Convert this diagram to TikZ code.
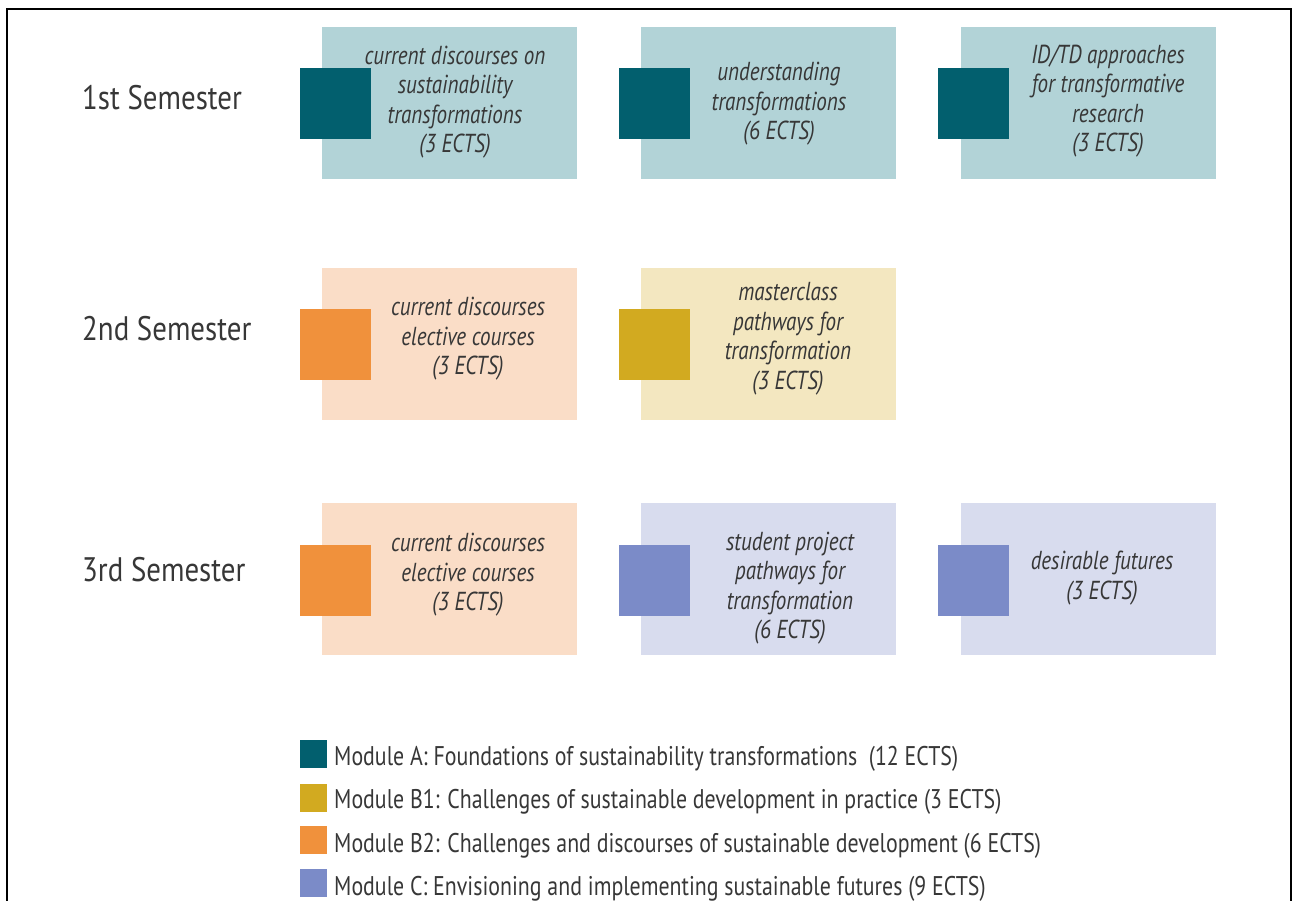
\documentclass[tikz,border=0pt]{standalone}
\usepackage{fontspec}
\setmainfont{PT Sans}
\newfontfamily\semfont{PT Sans}[FakeStretch=0.85]
\newfontfamily\modfont{PT Sans}[FakeStretch=0.81]
\usepackage{tikz}
\usetikzlibrary{positioning}

\definecolor{textgray}{RGB}{55,55,55}
\definecolor{darkA}{RGB}{2,95,110}
\definecolor{lightA}{RGB}{178,211,215}
\definecolor{darkBone}{RGB}{210,170,32}
\definecolor{lightBone}{RGB}{243,231,192}
\definecolor{darkBtwo}{RGB}{240,145,60}
\definecolor{lightBtwo}{RGB}{250,221,199}
\definecolor{darkC}{RGB}{123,139,200}
\definecolor{lightC}{RGB}{216,220,238}

\tikzset{
  semester/.style={font=\semfont\fontsize{34}{40}\selectfont, text=textgray, anchor=base west, inner sep=0pt},
  course/.style={font=\modfont\itshape\fontsize{26}{29.5}\selectfont, text=textgray, align=center, inner sep=0pt},
  legende/.style={font=\modfont\fontsize{27}{30}\selectfont, text=textgray, anchor=base west, inner sep=0pt}
}

\begin{document}
\begin{tikzpicture}[x=1pt,y=-1pt]

%Dimensions des modules
\def \boxw{255}
\def \boxh{152}
\def \sqw{71}
\def \colun{322}
\def \coldeux{641}
\def \coltrois{961}
\def \rowun{27}
\def \rowdeux{268}
\def \rowtrois{503}

\useasboundingbox (0,0) rectangle (1295,901);

%Cadre
\draw[line width=2.5pt] (7,910) -- (7,9) -- (1291,9) -- (1291,910);

%%% 1st Semester %%%
\node[semester] (sem1) at (82,110) {1st Semester};

\fill[lightA] (\colun,\rowun) rectangle ++(\boxw,\boxh);
\fill[darkA] (\colun-22,\rowun+41) rectangle ++(\sqw,\sqw);
\node[course] (a1) at (455,102) {current discourses on\\sustainability\\transformations\\(3 ECTS)};

\fill[lightA] (\coldeux,\rowun) rectangle ++(\boxw,\boxh);
\fill[darkA] (\coldeux-22,\rowun+41) rectangle ++(\sqw,\sqw);
\node[course] (a2) at (779,104) {understanding\\transformations\\(6 ECTS)};

\fill[lightA] (\coltrois,\rowun) rectangle ++(\boxw,\boxh);
\fill[darkA] (\coltrois-23,\rowun+41) rectangle ++(\sqw,\sqw);
\node[course] (a3) at (1108,101) {ID/TD approaches\\for transformative\\research\\(3 ECTS)};

%%% 2nd Semester %%%
\node[semester] (sem2) at (82,340) {2nd Semester};

\fill[lightBtwo] (\colun,\rowdeux) rectangle ++(\boxw,\boxh);
\fill[darkBtwo] (\colun-22,\rowdeux+41) rectangle ++(\sqw,\sqw);
\node[course] (b2) at (468,339) {current discourses\\elective courses\\(3 ECTS)};

\fill[lightBone] (\coldeux,\rowdeux) rectangle ++(\boxw,\boxh);
\fill[darkBone] (\coldeux-22,\rowdeux+41) rectangle ++(\sqw,\sqw);
\node[course] (b1) at (788,339) {masterclass\\pathways for\\transformation\\(3 ECTS)};

%%% 3rd Semester %%%
\node[semester] (sem3) at (82,581) {3rd Semester};

\fill[lightBtwo] (\colun,\rowtrois) rectangle ++(\boxw,\boxh);
\fill[darkBtwo] (\colun-22,\rowtrois+42) rectangle ++(\sqw,\sqw);
\node[course] (b2bis) at (468,575) {current discourses\\elective courses\\(3 ECTS)};

\fill[lightC] (\coldeux,\rowtrois) rectangle ++(\boxw,\boxh);
\fill[darkC] (\coldeux-22,\rowtrois+42) rectangle ++(\sqw,\sqw);
\node[course] (c1) at (790,588) {student project\\pathways for\\transformation\\(6 ECTS)};

\fill[lightC] (\coltrois,\rowtrois) rectangle ++(\boxw,\boxh);
\fill[darkC] (\coltrois-23,\rowtrois+42) rectangle ++(\sqw,\sqw);
\node[course] (c2) at (1102,578) {desirable futures\\(3 ECTS)};

%%% Legende %%%
\fill[darkA] (300,740) rectangle ++(27,28);
\node[legende] (legA) at (334,765) {Module A: Foundations of sustainability transformations\ \ (12 ECTS)};
\fill[darkBone] (300,784) rectangle ++(27,28);
\node[legende] (legBone) at (334,808) {Module B1: Challenges of sustainable development in practice (3 ECTS)};
\fill[darkBtwo] (300,826) rectangle ++(27,28);
\node[legende] (legBtwo) at (334,852) {Module B2: Challenges and discourses of sustainable development (6 ECTS)};
\fill[darkC] (300,869) rectangle ++(27,28);
\node[legende] (legC) at (334,895) {Module C: Envisioning and implementing sustainable futures (9 ECTS)};

\end{tikzpicture}
\end{document}
